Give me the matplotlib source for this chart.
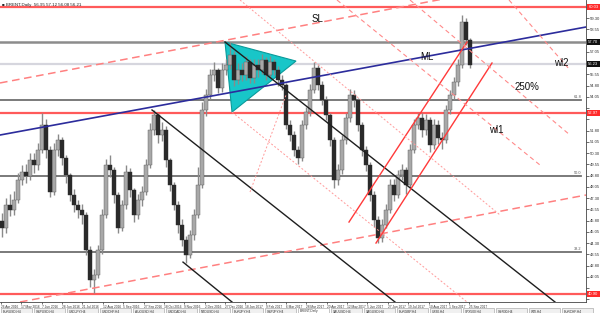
import numpy as np
import matplotlib.pyplot as plt
from matplotlib.patches import Polygon, Rectangle

plt.rcParams['font.family'] = ['Liberation Sans', 'DejaVu Sans']

# candles (one candle ~ three trading days)
first_open = 45.80
closes = [45.30, 46.83, 46.50, 47.17, 48.50, 49.03, 48.77, 49.83, 49.50, 50.50,
          52.17, 50.50, 47.70, 50.50, 51.17, 49.97, 48.83, 47.50, 46.83, 46.50,
          46.17, 43.83, 41.83, 42.17, 43.83, 46.17, 49.50, 49.17, 47.50, 45.30,
          46.83, 49.03, 47.83, 46.17, 47.17, 47.70, 49.50, 51.83, 52.83, 51.50,
          51.83, 49.83, 48.17, 46.83, 45.50, 44.50, 43.50, 44.83, 46.17, 48.17,
          53.17, 54.17, 55.50, 55.83, 54.63, 55.83, 56.17, 56.83, 55.17, 55.83,
          55.50, 56.37, 55.30, 56.17, 55.83, 56.50, 55.50, 56.37, 55.83, 55.17,
          54.83, 52.17, 51.50, 50.50, 49.97, 52.17, 53.03, 54.50, 55.97, 54.83,
          53.83, 52.83, 51.17, 48.50, 49.17, 51.17, 52.63, 54.17, 53.83, 52.17,
          50.50, 49.50, 47.50, 45.83, 44.63, 45.50, 46.50, 48.17, 47.50, 48.83,
          49.17, 48.17, 50.50, 52.17, 52.63, 51.83, 52.50, 50.83, 52.17, 51.30,
          51.17, 53.17, 54.17, 55.03, 56.17, 59.03, 57.83, 56.17]
highs = [46.3, 47.3, 47.6, 47.8, 49.0, 49.5, 49.6, 50.3, 50.3, 51.0,
         53.0, 52.6, 50.8, 51.0, 51.6, 51.4, 50.2, 49.0, 47.9, 47.2,
         46.9, 46.4, 44.1, 42.6, 44.2, 46.6, 49.9, 50.2, 49.4, 47.7,
         47.2, 49.5, 49.3, 48.0, 47.6, 48.1, 49.9, 52.3, 53.2, 53.0,
         52.4, 52.1, 50.0, 48.4, 47.1, 45.9, 44.8, 45.2, 46.6, 49.4,
         53.7, 54.6, 55.9, 56.4, 56.0, 56.3, 56.6, 57.7, 57.1, 56.3,
         56.3, 56.8, 56.6, 56.6, 56.6, 56.9, 56.7, 56.8, 56.6, 56.1,
         55.5, 55.0, 52.5, 51.8, 50.8, 52.5, 53.4, 54.9, 56.4, 56.2,
         55.1, 54.1, 53.0, 51.4, 49.6, 51.5, 53.0, 54.6, 54.5, 54.0,
         52.4, 50.8, 49.7, 47.8, 46.1, 45.9, 46.9, 48.6, 48.6, 49.2,
         49.6, 49.4, 50.9, 52.6, 53.0, 53.0, 52.9, 52.7, 52.6, 52.5,
         51.7, 53.5, 54.5, 55.4, 56.6, 59.5, 59.3, 58.0]
lows = [44.7, 45.0, 46.1, 46.2, 47.0, 48.2, 48.3, 48.5, 49.0, 49.2,
        50.3, 50.0, 47.4, 47.5, 50.1, 49.5, 48.3, 47.1, 46.4, 46.0,
        45.6, 43.5, 41.4, 41.0, 42.0, 43.6, 46.0, 48.7, 47.0, 45.0,
        45.1, 46.6, 47.4, 45.7, 45.9, 46.8, 47.5, 49.3, 51.5, 51.0,
        51.1, 49.4, 47.8, 46.5, 45.0, 44.1, 43.0, 43.3, 44.5, 46.0,
        48.0, 52.8, 53.9, 55.1, 54.3, 54.4, 55.5, 55.9, 54.8, 54.9,
        55.1, 55.2, 55.0, 55.0, 55.4, 55.6, 55.2, 55.3, 55.5, 54.8,
        54.5, 51.9, 51.1, 50.1, 49.6, 49.8, 51.9, 52.8, 54.3, 54.5,
        53.5, 52.5, 50.8, 48.0, 48.2, 48.9, 50.9, 52.4, 53.4, 51.8,
        50.1, 49.1, 47.1, 45.4, 44.3, 44.4, 45.3, 46.3, 47.1, 47.3,
        48.5, 47.6, 48.0, 50.3, 51.9, 51.4, 51.5, 50.4, 50.6, 50.9,
        50.6, 51.0, 52.9, 53.9, 54.8, 56.0, 57.5, 56.0]

dates = ["26 Apr 2016", "17 May 2016", "7 Jun 2016", "28 Jun 2016", "21 Jul 2016",
         "12 Aug 2016", "5 Sep 2016", "27 Sep 2016", "18 Oct 2016", "9 Nov 2016",
         "2 Dec 2016", "27 Dec 2016", "18 Jan 2017", "9 Feb 2017", "6 Mar 2017",
         "28 Mar 2017", "20 Apr 2017", "12 May 2017", "5 Jun 2017", "27 Jun 2017",
         "19 Jul 2017", "10 Aug 2017", "1 Sep 2017", "25 Sep 2017"]
date_start, date_step = -0.25, 5.09

# horizontal levels
red_levels = [60.03, 52.97, 40.90]
dark_level = 57.70
bid_level = 56.23
fib_levels = [53.83, 48.77, 43.70]
fib_labels = ["61.8", "50.0", "38.2"]

# drawn objects: (x0, p0, x1, p1) in candle index / price
pitch_median = (-0.5, 51.5, 146.0, 58.7)
pitch_upper = (-0.5, 54.97, 146.0, 62.37)
pitch_lower = (4.5, 40.37, 146.0, 47.5)
black_lines = [(37.5, 53.17, 98.25, 40.37), (55.75, 57.7, 138.25, 40.37),
               (45.25, 43.03, 57.5, 40.37)]
red_channel = [(86.75, 45.7, 116.25, 57.7), (93.5, 44.3, 122.5, 56.3)]
dotted_lines = [(57.5, 53.03, 116.25, 40.37), (59.5, 60.5, 124.5, 46.17),
                (62.0, 47.7, 71.0, 54.17)]
dashed_lines = [(83.75, 60.5, 134.5, 49.5), (102.0, 60.5, 142.0, 51.5),
                (126.75, 60.5, 142.0, 55.83)]
triangle_x = [55.75, 73.5, 57.5]
triangle_p = [57.7, 56.43, 53.03]
labels = [("SL", 79.0, 59.23), ("ML", 106.25, 56.7), ("wl2", 139.75, 56.3),
          ("250%", 131.25, 54.7), ("wl1", 123.5, 51.83)]

tabs = ["EURUSD,H4", "GBPUSD,H4", "USDJPY,H4", "USDCHF,H4", "AUDUSD,H4",
        "USDCAD,H4", "NZDUSD,H4", "EURJPY,H4", "GBPJPY,H4", "BRENT,Daily",
        "XAUUSD,H4", "XAGUSD,H4", "EURGBP,H4", "US30,H4", "SPX500,H4",
        "GER30,H4", "WTI,H4", "EURCHF,H4"]

fig = plt.figure(figsize=(6, 3.13), dpi=100)
ax = fig.add_axes([0, 11 / 313, 586 / 600, 302 / 313])
ax.set_xlim(-0.5, 146.0)
ax.set_ylim(40.37, 60.5)

# levels
for p in red_levels:
    ax.axhline(p, color='#ff5a5a', lw=1.6, zorder=1)
ax.axhline(dark_level, color='#8c8c8c', lw=1.8, zorder=1)
ax.axhline(bid_level, color='#d6d6de', lw=1.6, zorder=1)
for p, t in zip(fib_levels, fib_labels):
    ax.plot([-0.5, 144.8], [p, p], color='#707070', lw=1.3, zorder=1)
    ax.text(144.8, p + 0.08, t, fontsize=2.8, color='#555555', ha='right', va='bottom')

# triangle
ax.add_patch(Polygon(list(zip(triangle_x, triangle_p)), closed=True,
                     fc='#18c6c8', ec='#0a9a9a', lw=0.8, zorder=2))

# pitchfork & trend lines
def seg(s, **kw):
    ax.plot([s[0], s[2]], [s[1], s[3]], **kw)

seg(pitch_median, color='#2c2c9c', lw=1.2, zorder=4)
seg(pitch_upper, color='#ff8080', lw=1.1, ls=(0, (5, 3)), zorder=4)
seg(pitch_lower, color='#ff8080', lw=1.1, ls=(0, (5, 3)), zorder=4)
for s in black_lines:
    seg(s, color='#1e1e1e', lw=1.0, zorder=4)
for s in red_channel:
    seg(s, color='#ff3a3a', lw=1.0, zorder=4)
for s in dotted_lines:
    seg(s, color='#ff9a9a', lw=0.7, ls=(0, (2, 2)), zorder=4)
for s in dashed_lines:
    seg(s, color='#ff8a8a', lw=0.8, ls=(0, (4, 3)), zorder=4)

# candles
x = np.arange(len(closes))
c = np.array(closes)
o = np.array([first_open] + closes[:-1])
ax.vlines(x, lows, highs, color='#8a8a8a', lw=1.0, zorder=3)
up = c >= o
h = np.maximum(np.abs(c - o), 0.06)
ax.bar(x[up], h[up], bottom=np.minimum(o, c)[up], width=0.8,
       color='#a8a8a8', edgecolor='#5a5a5a', lw=0.3, zorder=3)
ax.bar(x[~up], h[~up], bottom=np.minimum(o, c)[~up], width=0.8,
       color='#2a2a2a', edgecolor='#2a2a2a', lw=0.3, zorder=3)

for t, lx, lp in labels:
    ax.text(lx, lp, t, fontsize=7, ha='center', va='center', color='#111111', zorder=6)

ax.text(0.004, 0.99, "\u25a0 BRENT,Daily  56.95 57.12 56.08 56.21", transform=ax.transAxes,
        fontsize=3.2, va='top', ha='left', color='#222222')

# axes styling
for s in ['left', 'top']:
    ax.spines[s].set_visible(False)
ax.spines['right'].set_color('#444444')
ax.spines['bottom'].set_color('#444444')
ax.spines['right'].set_linewidth(0.6)
ax.spines['bottom'].set_linewidth(0.6)
ax.yaxis.tick_right()
tags = red_levels + [dark_level, bid_level]
yt = np.arange(40.55, 60.1, 0.75)
ax.set_yticks(yt)
ax.set_yticklabels(["" if min(abs(v - t) for t in tags) < 0.45 else f"{v:.2f}" for v in yt])
ax.tick_params(axis='y', labelsize=3.0, length=2, width=0.5, pad=1, colors='#333333')
pos = date_start + date_step * np.arange(len(dates))
ax.set_xticks(pos)
ax.set_xticklabels(dates, ha='left')
ax.tick_params(axis='x', labelsize=2.3, length=1.5, width=0.5, pad=0.4, colors='#333333')

# price tags on the axis
tr = ax.get_yaxis_transform()
for p in red_levels:
    ax.text(1.004, p, f"{p:.2f}", transform=tr, fontsize=3.0, color='white', va='center',
            ha='left', bbox=dict(boxstyle='square,pad=0.25', fc='#ff2a2a', ec='none'), zorder=7)
for p in [dark_level, bid_level]:
    ax.text(1.004, p, f"{p:.2f}", transform=tr, fontsize=3.0, color='white', va='center',
            ha='left', bbox=dict(boxstyle='square,pad=0.25', fc='#111111', ec='none'), zorder=7)

# symbol tabs along the bottom
tab_w, tab_gap = 31, 2
for i, name in enumerate(tabs):
    x0 = 1 + i * (tab_w + tab_gap)
    active = name == "BRENT,Daily"
    fig.patches.append(Rectangle((x0 / 600, 0), tab_w / 600, 5 / 313, transform=fig.transFigure,
                                 fc='white' if active else '#f0f0f0', ec='#9a9a9a', lw=0.4))
    fig.text((x0 + 2) / 600, 1.8 / 313, name, fontsize=2.3, color='#333333', va='center')

fig.savefig('out.png', dpi=100)
